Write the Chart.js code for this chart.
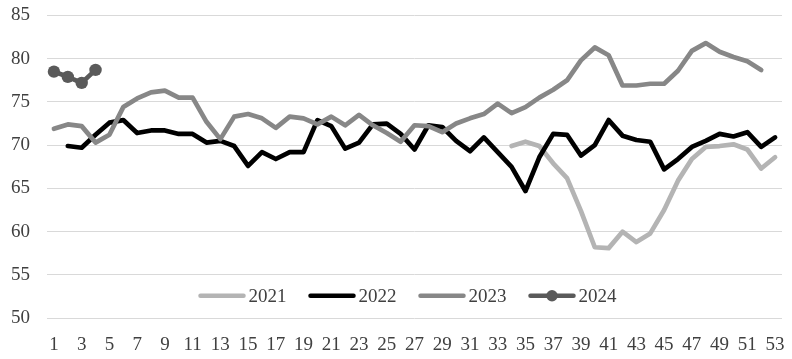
<!DOCTYPE html>
<html><head><meta charset="utf-8">
<script src="https://cdn.jsdelivr.net/npm/chart.js@4/dist/chart.umd.min.js"></script>
<style>html,body{margin:0;padding:0;background:#fff}#wrap{width:792px;height:359px;position:relative}
#probe{position:absolute;left:-9999px;top:0;font-family:'Liberation Serif';font-size:19px}</style>
</head><body><div id="probe">0123456789</div><div id="wrap"><canvas id="c" width="792" height="359"></canvas></div>
<script>
const weeks = [1,2,3,4,5,6,7,8,9,10,11,12,13,14,15,16,17,18,19,20,21,22,23,24,25,26,27,28,29,30,31,32,33,34,35,36,37,38,39,40,41,42,43,44,45,46,47,48,49,50,51,52,53];
const seriesNames = ['2021','2022','2023','2024'];
const y2021 = [null,null,null,null,null,null,null,null,null,null,null,null,null,null,null,null,null,null,null,null,null,null,null,null,null,null,null,null,null,null,null,null,null,
  69.9,70.4,69.9,67.9,66.2,62.4,58.2,58.1,60.0,58.8,59.8,62.5,65.9,68.4,69.8,69.9,70.1,69.5,67.3,68.6];
const y2022 = [null,69.9,69.7,71.2,72.6,72.9,71.4,71.7,71.7,71.3,71.3,70.3,70.5,69.9,67.6,69.2,68.4,69.2,69.2,72.9,72.2,69.6,70.3,72.4,72.5,71.3,69.5,72.3,72.1,70.5,69.3,70.9,69.2,67.5,64.7,68.6,71.3,71.2,68.8,70.0,72.9,71.1,70.6,70.4,67.2,68.4,69.8,70.5,71.3,71.0,71.5,69.8,70.9];
const y2023 = [71.9,72.4,72.2,70.3,71.2,74.4,75.4,76.1,76.3,75.5,75.5,72.7,70.7,73.3,73.6,73.1,72.0,73.3,73.1,72.4,73.3,72.3,73.5,72.3,71.4,70.4,72.3,72.2,71.5,72.5,73.1,73.6,74.8,73.7,74.4,75.5,76.4,77.5,79.8,81.3,80.4,76.9,76.9,77.1,77.1,78.6,80.9,81.8,80.8,80.2,79.7,78.7,null];
const y2024 = [78.5,77.9,77.2,78.7];
const yMin = 50, yMax = 85, yStep = 5;

const textColor = '#404040';
const fontSpec = {family: "'Liberation Serif'", size: 19};
const colors = ['#b4b4b4', '#000000', '#878787', '#5a5a5a'];

const inlineLegend = {
  id: 'inlineLegend',
  afterDatasetsDraw(chart) {
    const ctx = chart.ctx, area = chart.chartArea;
    ctx.save();
    ctx.font = fontSpec.size + 'px ' + fontSpec.family;
    ctx.textBaseline = 'middle';
    const sample = 47, gap = 3, itemGap = 22;
    const widths = seriesNames.map(n => ctx.measureText(n).width);
    let total = 0;
    widths.forEach((w, i) => { total += sample + gap + w + (i < widths.length - 1 ? itemGap : 0); });
    const cx = (area.left + area.right) / 2 - 7;
    let x = cx - total / 2;
    const y = area.bottom - 22.5;
    seriesNames.forEach((n, i) => {
      const ds = chart.data.datasets[i];
      ctx.strokeStyle = ds.borderColor;
      ctx.lineWidth = 4.5;
      ctx.lineCap = 'round';
      ctx.beginPath(); ctx.moveTo(x + 2, y); ctx.lineTo(x + sample - 2, y); ctx.stroke();
      if (ds.pointRadius > 0) {
        ctx.fillStyle = ds.borderColor;
        ctx.beginPath(); ctx.arc(x + sample / 2, y, 5.7, 0, Math.PI * 2); ctx.fill();
      }
      ctx.fillStyle = textColor;
      ctx.fillText(n, x + sample + gap, y + 1);
      x += sample + gap + widths[i] + itemGap;
    });
    ctx.restore();
  }
};

const lineDs = (label, data, color, order, pr) => ({
  label, data, borderColor: color, backgroundColor: color,
  borderWidth: 4.7, pointRadius: pr, pointHoverRadius: pr, pointBorderWidth: 0,
  pointBackgroundColor: color, borderCapStyle: 'round', borderJoinStyle: 'round',
  tension: 0, spanGaps: false, fill: false, order
});

function draw() {
  new Chart(document.getElementById('c'), {
    type: 'line',
    data: {
      labels: weeks,
      datasets: [
        lineDs(seriesNames[0], y2021, colors[0], 4, 0),
        lineDs(seriesNames[1], y2022, colors[1], 3, 0),
        lineDs(seriesNames[2], y2023, colors[2], 2, 0),
        lineDs(seriesNames[3], y2024, colors[3], 1, 6.2)
      ]
    },
    options: {
      responsive: false, animation: false, devicePixelRatio: 1,
      layout: {autoPadding: false, padding: {left: 7, right: 10, top: 15, bottom: 1}},
      plugins: {legend: {display: false}, tooltip: {enabled: false}},
      scales: {
        x: {
          offset: true,
          grid: {display: false, drawTicks: true, tickLength: 13},
          border: {display: false},
          ticks: {autoSkip: false, maxRotation: 0, padding: 2, color: textColor, font: fontSpec,
            callback: (v, i) => (i % 2 === 0 ? String(weeks[i]) : '')}
        },
        y: {
          min: yMin, max: yMax,
          grid: {color: '#d9d9d9', lineWidth: 1, drawTicks: true, tickLength: 13, tickColor: 'rgba(0,0,0,0)'},
          border: {display: false},
          ticks: {stepSize: yStep, padding: 4, color: textColor, font: fontSpec}
        }
      }
    },
    plugins: [inlineLegend]
  });
}
if (document.fonts && document.fonts.load) {
  document.fonts.load("19px 'Liberation Serif'").then(draw, draw);
} else { draw(); }
</script>
</body></html>
